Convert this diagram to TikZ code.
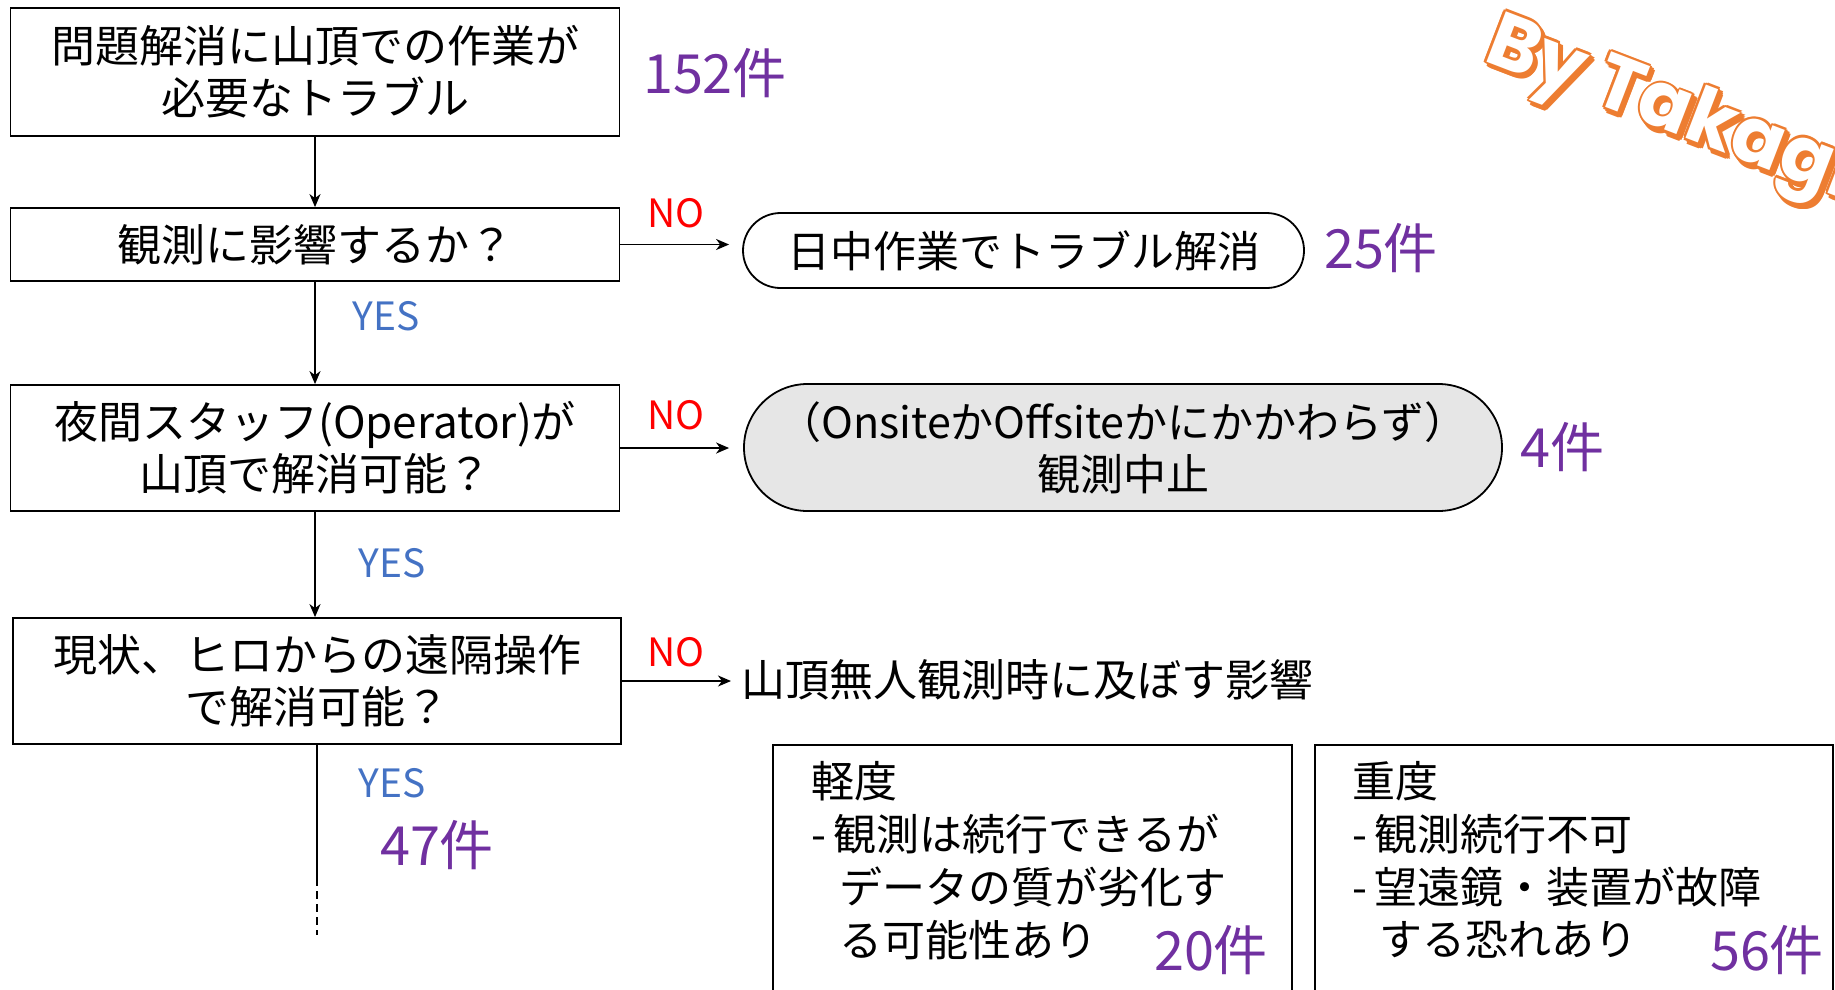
\documentclass[tikz,border=0pt]{standalone}
\usepackage{fontspec}
\setmainfont{Noto Sans CJK JP}
\newfontfamily\wmfont{Poppins}
\usetikzlibrary{arrows.meta,shapes.misc,calc}
\definecolor{nored}{HTML}{FF0000}
\definecolor{yesblue}{HTML}{4472C4}
\definecolor{cntpurple}{HTML}{7030A0}
\definecolor{wmorange}{HTML}{ED7D31}
\definecolor{termgray}{HTML}{E6E6E6}
\begin{document}
\begin{tikzpicture}[x=1pt,y=-1pt,
 box/.style={draw, line width=1.8pt, inner sep=0pt, align=center, font=\fontsize{44}{52}\selectfont, minimum width=609pt},
 term/.style={draw, line width=1.8pt, rounded rectangle, inner sep=0pt, align=center, font=\fontsize{43}{52}\selectfont},
 arr/.style={line width=1.8pt, -{Stealth[length=13pt,width=11pt,inset=4pt]}},
 nolab/.style={text=nored, font=\fontsize{39}{39}\selectfont, inner sep=0pt},
 yeslab/.style={text=yesblue, font=\fontsize{39}{39}\selectfont, inner sep=0pt},
 cnt/.style={text=cntpurple, font=\fontsize{54}{54}\selectfont, inner sep=0pt},
 plain/.style={font=\fontsize{43}{52}\selectfont, inner sep=0pt, anchor=west},
 sevbox/.style={draw, line width=1.8pt, anchor=north west, inner sep=0pt},
 wm/.style={font=\wmfont\bfseries\fontsize{77}{77}\selectfont, inner sep=0pt, anchor=base west, rotate=-21},
 ]
\useasboundingbox (0,0) rectangle (1835,989);

% watermark
\coordinate (wmpos) at (1482,60);
\foreach \a in {0,45,...,315}{
  \node[wm, text=wmorange] (wms\a) at ([shift={(\a:2.4)}] $(wmpos)+(3,4)$) {By Takagi};
}
\foreach \a in {0,45,...,315}{
  \node[wm, text=wmorange] (wmo\a) at ([shift={(\a:2.4)}] wmpos) {By Takagi};
}
\node[wm, text=white] (wmtext) at (wmpos) {By Takagi};

% main boxes
\node[box, minimum height=128pt] (b1) at (315,72) {問題解消に山頂での作業が\\必要なトラブル};
\node[box, minimum height=73pt] (b2) at (315,244.5) {観測に影響するか？};
\node[box, minimum height=126pt] (b3) at (315,448) {夜間スタッフ(Operator)が\\山頂で解消可能？};
\node[box, minimum height=126pt, minimum width=608pt] (b4) at (317,681) {現状、ヒロからの遠隔操作\\で解消可能？};

% terminals
\node[term, minimum width=561pt, minimum height=75pt] (t1) at (1023.5,250.5) {日中作業でトラブル解消};
\node[term, fill=termgray, minimum width=758pt, minimum height=127pt] (t2) at (1123,447.5) {（OnsiteかOffsiteかにかかわらず）\\観測中止};
\node[plain, font=\fontsize{44}{52}\selectfont] (impact) at (741,680) {山頂無人観測時に及ぼす影響};

% vertical arrows
\draw[arr] (b1.south) -- (b2.north);
\draw[arr] (b2.south) -- (b3.north);
\draw[arr] (b3.south -| b1.south) -- (b4.north -| b1.south);
\coordinate (tailA) at (317,878);
\coordinate (tailB) at (317,935);
\draw[line width=1.8pt] (b4.south) -- (tailA);
\draw[line width=1.8pt, dash pattern=on 8pt off 5pt] (tailA) -- (tailB);

% horizontal arrows
\draw[arr, shorten >=13pt] (b2.east) -- (b2.east -| t1.west);
\draw[arr, shorten >=14pt] (b3.east) -- (b3.east -| t2.west);
\draw[arr, shorten >=10pt] (b4.east) -- (b4.east -| impact.west);

% labels
\node[nolab] (no1) at (676,213) {NO};
\node[nolab] (no2) at (676,415) {NO};
\node[nolab] (no3) at (676,652) {NO};
\node[yeslab] (yes1) at (386,316) {YES};
\node[yeslab] (yes2) at (392,563) {YES};
\node[yeslab] (yes3) at (392,783) {YES};

% counts
\node[cnt] (c152) at (715,73) {152件};
\node[cnt] (c25) at (1381,248) {25件};
\node[cnt] (c4) at (1562,447) {4件};
\node[cnt] (c47) at (437,845) {47件};
\node[cnt] (c20) at (1211,950) {20件};
\node[cnt] (c56) at (1767,950) {56件};

% bottom boxes
\node[sevbox, minimum width=519pt, minimum height=280pt] (mild) at (772,744) {};
\node[sevbox, minimum width=518pt, minimum height=280pt] (severe) at (1314,744) {};
\node[plain] (m1) at (811,781) {軽度};
\node[plain] (m2) at (811,834) {-\,観測は続行できるが};
\node[plain] (m3) at (839,887) {データの質が劣化す};
\node[plain] (m4) at (839,940) {る可能性あり};
\node[plain] (s1) at (1352,781) {重度};
\node[plain] (s2) at (1352,834) {-\,観測続行不可};
\node[plain] (s3) at (1352,887) {-\,望遠鏡・装置が故障};
\node[plain] (s4) at (1379,940) {する恐れあり};
\end{tikzpicture}
\end{document}
